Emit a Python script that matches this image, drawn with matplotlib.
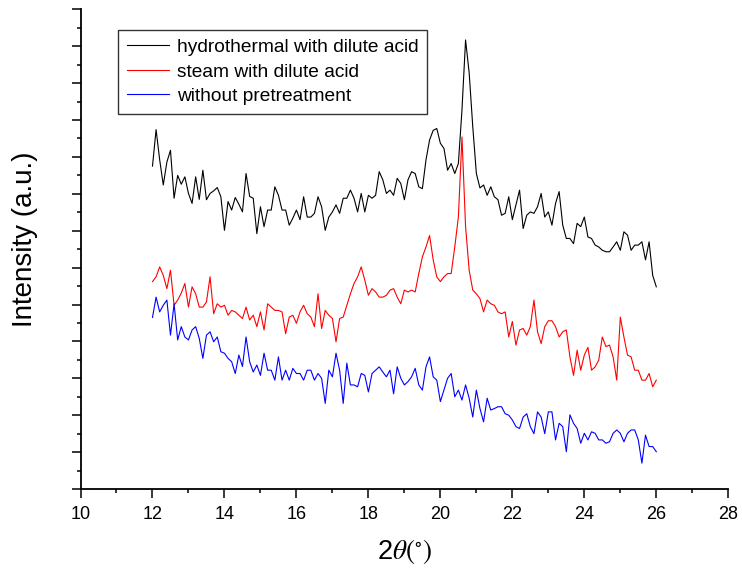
import numpy as np
import matplotlib
matplotlib.use("Agg")
import matplotlib.pyplot as plt
from matplotlib.ticker import MultipleLocator, NullFormatter

plt.rcParams['font.family'] = ['Liberation Sans', 'DejaVu Sans']
plt.rcParams['mathtext.fontset'] = 'stix'

# scan angles, 2theta = 12.0 ... 26.0 in 0.1 deg steps
two_theta = np.round(np.arange(12.0, 26.05, 0.1), 1)

# intensities (a.u.), one value per 0.1 deg
hydrothermal = [875, 974, 892, 824, 886, 918, 788, 850, 826, 846,
                801, 774, 846, 785, 864, 784, 801, 808, 817, 792,
                701, 779, 756, 790, 772, 751, 855, 793, 788, 692,
                765, 711, 756, 756, 819, 796, 756, 756, 715, 734,
                756, 730, 792, 737, 737, 747, 792, 765, 701, 737,
                751, 770, 747, 788, 788, 810, 788, 751, 801, 751,
                796, 788, 796, 860, 838, 801, 810, 796, 842, 828,
                784, 838, 860, 855, 819, 814, 892, 946, 972, 977,
                937, 923, 864, 882, 855, 882, 1027, 1217, 1128, 982,
                855, 816, 824, 796, 819, 792, 784, 742, 747, 792,
                730, 770, 810, 706, 742, 751, 747, 765, 801, 737,
                751, 715, 774, 806, 715, 679, 679, 665, 720, 711,
                737, 683, 679, 661, 656, 647, 643, 643, 656, 670,
                647, 697, 688, 647, 661, 661, 670, 621, 670, 579,
                548]

steam = [562, 575, 602, 579, 543, 593, 498, 512, 531, 557,
         493, 548, 529, 493, 493, 507, 575, 475, 502, 493,
         498, 471, 484, 480, 471, 462, 493, 458, 471, 440,
         480, 431, 502, 493, 484, 484, 480, 421, 466, 471,
         449, 480, 498, 475, 466, 440, 529, 435, 484, 471,
         462, 399, 462, 466, 498, 529, 557, 575, 602, 566,
         525, 543, 534, 520, 520, 525, 539, 543, 520, 502,
         539, 534, 539, 534, 584, 629, 656, 687, 621, 575,
         562, 575, 584, 584, 656, 737, 954, 711, 593, 539,
         529, 516, 480, 512, 502, 498, 480, 475, 480, 412,
         454, 390, 431, 435, 417, 440, 512, 426, 394, 440,
         456, 456, 440, 412, 426, 431, 358, 308, 376, 322,
         363, 384, 322, 331, 349, 412, 386, 390, 358, 295,
         466, 412, 363, 358, 322, 322, 295, 295, 313, 277,
         295]

untreated = [465, 520, 480, 498, 512, 417, 502, 404, 440, 412,
             404, 431, 440, 408, 354, 417, 426, 399, 412, 372,
             368, 354, 345, 313, 363, 332, 412, 345, 317, 336,
             308, 368, 322, 322, 295, 358, 295, 322, 295, 327,
             313, 313, 295, 322, 322, 295, 313, 300, 232, 322,
             304, 368, 322, 232, 341, 282, 282, 277, 313, 308,
             263, 313, 322, 331, 317, 304, 322, 258, 331, 300,
             282, 291, 304, 327, 282, 268, 331, 358, 304, 295,
             237, 268, 300, 313, 250, 268, 241, 282, 246, 195,
             268, 218, 182, 246, 214, 218, 223, 223, 204, 200,
             187, 169, 164, 195, 204, 169, 150, 209, 195, 150,
             209, 209, 133, 178, 169, 101, 201, 178, 164, 124,
             151, 133, 155, 151, 133, 133, 124, 128, 151, 160,
             151, 128, 151, 160, 160, 133, 70, 146, 115, 115,
             101]

labels = ['hydrothermal with dilute acid', 'steam with dilute acid', 'without pretreatment']

fig = plt.figure(figsize=(7.42, 5.69), dpi=100)
ax = fig.add_axes([0.1085, 0.1406, 0.873, 0.843])

ax.plot(two_theta, hydrothermal, color='black', lw=0.8, label=labels[0])
ax.plot(two_theta, steam, color='red', lw=0.8, label=labels[1])
ax.plot(two_theta, untreated, color='blue', lw=0.8, label=labels[2])

ax.set_xlim(10, 28)
ax.set_ylim(0, 1300)
ax.xaxis.set_major_locator(MultipleLocator(2))
ax.xaxis.set_minor_locator(MultipleLocator(1))
ax.yaxis.set_major_locator(MultipleLocator(100))
ax.yaxis.set_minor_locator(MultipleLocator(50))
ax.yaxis.set_major_formatter(NullFormatter())

for s in ['top', 'right']:
    ax.spines[s].set_visible(False)
for s in ['left', 'bottom']:
    ax.spines[s].set_linewidth(1.3)

ax.tick_params(which='major', direction='out', length=6.3, width=1.1, labelsize=13, pad=6)
ax.tick_params(which='minor', direction='out', length=3.2, width=1.1)

ax.set_xlabel(r'2$\theta(^{\circ})$', fontsize=19.5)
ax.xaxis.set_label_coords(0.5, -0.1)
ax.set_ylabel('Intensity (a.u.)', fontsize=20)
ax.yaxis.set_label_coords(-0.066, 0.52)

leg = ax.legend(loc='upper left', bbox_to_anchor=(0.058, 0.957), fontsize=13.8,
                frameon=True, fancybox=False, borderaxespad=0, borderpad=0.45,
                labelspacing=0.37, handlelength=2.2, handletextpad=0.4)
leg.get_frame().set_edgecolor('black')
leg.get_frame().set_linewidth(1.0)

fig.savefig('out.png', dpi=100)
